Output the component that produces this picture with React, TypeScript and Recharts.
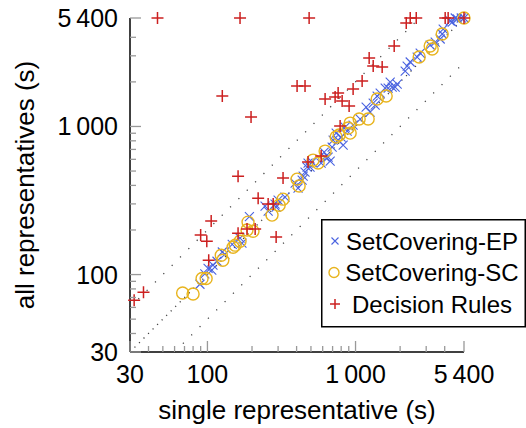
import {
  ScatterChart, Scatter, XAxis, YAxis, ReferenceLine, Legend, Label,
} from 'recharts';

const FONT = '"Liberation Sans", Arial, Helvetica, sans-serif';

// log-axis ticks (all) and the ones that carry a label
const axisTicks = [30, 40, 50, 60, 70, 80, 90, 100, 200, 300, 400, 500, 600, 700, 800, 900, 1000, 2000, 3000, 4000, 5400];
const majorTicks = [30, 100, 1000, 5400];
const tickLabels: Record<number, string> = { 30: '30', 100: '100', 1000: '1\u2009000', 5400: '5\u2009400' };

// guide lines y = 2x, y = x, y = x/2
const guideUpper = [{ x: 30, y: 60 }, { x: 2700, y: 5400 }];
const guideDiag = [{ x: 30, y: 30 }, { x: 5400, y: 5400 }];
const guideLower = [{ x: 60, y: 30 }, { x: 5400, y: 2700 }];

const setCoveringEP = [
  { x: 89, y: 86 }, { x: 96, y: 101 }, { x: 101, y: 110 }, { x: 109, y: 116 }, { x: 107, y: 107 },
  { x: 116, y: 123 }, { x: 126, y: 142 }, { x: 131, y: 137 }, { x: 147, y: 160 }, { x: 166, y: 176 },
  { x: 171, y: 163 }, { x: 192, y: 246 }, { x: 245, y: 290 }, { x: 257, y: 268 }, { x: 286, y: 299 },
  { x: 300, y: 318 }, { x: 291, y: 285 }, { x: 334, y: 333 }, { x: 391, y: 414 }, { x: 409, y: 384 },
  { x: 436, y: 434 }, { x: 443, y: 462 }, { x: 456, y: 492 }, { x: 471, y: 532 }, { x: 478, y: 566 },
  { x: 493, y: 532 }, { x: 509, y: 575 }, { x: 586, y: 566 }, { x: 614, y: 671 }, { x: 623, y: 621 },
  { x: 653, y: 621 }, { x: 674, y: 584 }, { x: 695, y: 726 }, { x: 706, y: 809 }, { x: 740, y: 902 },
  { x: 763, y: 809 }, { x: 799, y: 848 }, { x: 825, y: 749 }, { x: 851, y: 991 }, { x: 878, y: 931 },
  { x: 963, y: 1022 }, { x: 1075, y: 1122 }, { x: 1179, y: 1352 }, { x: 1255, y: 1251 }, { x: 1316, y: 1439 },
  { x: 1357, y: 1395 }, { x: 1400, y: 1605 }, { x: 1467, y: 1681 }, { x: 1586, y: 1817 }, { x: 1661, y: 1817 },
  { x: 1714, y: 1995 }, { x: 1768, y: 1846 }, { x: 1852, y: 1846 }, { x: 1911, y: 1934 }, { x: 2164, y: 2367 },
  { x: 2232, y: 2559 }, { x: 2339, y: 2724 }, { x: 2608, y: 2944 }, { x: 2733, y: 3133 }, { x: 3192, y: 3548 },
  { x: 3451, y: 3717 }, { x: 3730, y: 3895 }, { x: 3848, y: 4210 }, { x: 3908, y: 4550 }, { x: 4358, y: 5153 },
  { x: 4496, y: 5073 }, { x: 4711, y: 5400 }, { x: 4860, y: 5316 }, { x: 5171, y: 5400 }, { x: 5400, y: 5400 },
];

const setCoveringSC = [
  { x: 68, y: 75 }, { x: 80, y: 74 }, { x: 92, y: 94 }, { x: 98, y: 94 }, { x: 124, y: 135 },
  { x: 127, y: 125 }, { x: 149, y: 153 }, { x: 154, y: 158 }, { x: 166, y: 168 }, { x: 188, y: 226 },
  { x: 203, y: 196 }, { x: 185, y: 200 }, { x: 273, y: 252 }, { x: 305, y: 294 }, { x: 324, y: 323 },
  { x: 403, y: 441 }, { x: 416, y: 396 }, { x: 517, y: 593 }, { x: 559, y: 566 }, { x: 623, y: 682 },
  { x: 740, y: 848 }, { x: 775, y: 875 }, { x: 892, y: 976 }, { x: 920, y: 1054 }, { x: 920, y: 902 },
  { x: 1058, y: 1122 }, { x: 1217, y: 1122 }, { x: 1400, y: 1531 }, { x: 1610, y: 1605 }, { x: 2690, y: 2944 },
  { x: 3192, y: 3493 }, { x: 3293, y: 3334 }, { x: 3848, y: 4210 }, { x: 5400, y: 5400 },
];

const decisionRules = [
  { x: 46, y: 5400 }, { x: 166, y: 5400 }, { x: 486, y: 5400 }, { x: 2340, y: 5400 }, { x: 2570, y: 5400 },
  { x: 2200, y: 5000 }, { x: 4030, y: 5400 }, { x: 4220, y: 5400 }, { x: 5400, y: 5400 },
  { x: 126, y: 1605 }, { x: 197, y: 1157 }, { x: 403, y: 1875 }, { x: 456, y: 1875 }, { x: 623, y: 1531 },
  { x: 728, y: 1580 }, { x: 763, y: 1681 }, { x: 812, y: 1484 }, { x: 905, y: 1373 }, { x: 963, y: 1789 },
  { x: 1108, y: 2026 }, { x: 1236, y: 2898 }, { x: 1316, y: 2559 }, { x: 1513, y: 2519 }, { x: 1824, y: 3493 },
  { x: 787, y: 1006 }, { x: 586, y: 631 }, { x: 478, y: 575 }, { x: 324, y: 448 }, { x: 161, y: 462 },
  { x: 220, y: 328 }, { x: 257, y: 299 }, { x: 278, y: 299 }, { x: 106, y: 230 }, { x: 90, y: 185 },
  { x: 99, y: 168 }, { x: 102, y: 125 }, { x: 37, y: 76 }, { x: 32, y: 67 }, { x: 161, y: 190 },
  { x: 185, y: 203 }, { x: 210, y: 203 }, { x: 291, y: 179 },
];

const BLUE = '#4a63e0';
const GOLD = '#e8b41e';
const RED = '#cc2020';

const Cross = ({ cx, cy, s = 4.5 }: any) => (
  <path d={`M${cx - s},${cy - s}L${cx + s},${cy + s}M${cx - s},${cy + s}L${cx + s},${cy - s}`}
    stroke={BLUE} strokeWidth={1.1} fill="none" />
);
const Ring = ({ cx, cy, r = 6 }: any) => (
  <circle cx={cx} cy={cy} r={r} stroke={GOLD} strokeWidth={1.4} fill="none" />
);
const Plus = ({ cx, cy, s = 6 }: any) => (
  <path d={`M${cx - s},${cy}L${cx + s},${cy}M${cx},${cy - s}L${cx},${cy + s}`}
    stroke={RED} strokeWidth={1.5} fill="none" />
);

const XTick = ({ x, y, payload }: any) => {
  const major = majorTicks.includes(payload.value);
  return (
    <g>
      <line x1={x} x2={x} y1={y} y2={y - (major ? 11 : 6)} stroke="#999" strokeWidth={1.3} />
      {major && (
        <text x={x} y={y + 31} textAnchor="middle" fontSize={25} fontFamily={FONT} fill="#000">
          {tickLabels[payload.value]}
        </text>
      )}
    </g>
  );
};

const YTick = ({ x, y, payload }: any) => {
  const major = majorTicks.includes(payload.value);
  return (
    <g>
      <line x1={x} x2={x + (major ? 11 : 6)} y1={y} y2={y} stroke="#999" strokeWidth={1.3} />
      {major && (
        <text x={x - 12} y={y} dy="0.36em" textAnchor="end" fontSize={25} fontFamily={FONT} fill="#000">
          {tickLabels[payload.value]}
        </text>
      )}
    </g>
  );
};

const legendItems = [
  { name: 'SetCovering-EP', marker: 'x' },
  { name: 'SetCovering-SC', marker: 'o' },
  { name: 'Decision Rules', marker: '+' },
];

const LegendBox = () => (
  <svg width={205} height={109} style={{ display: 'block' }}>
    <rect x={0.75} y={0.75} width={203.5} height={107} fill="#fff" stroke="#000" strokeWidth={1.5} />
    {legendItems.map((item, i) => {
      const cy = 22 + i * 31.5;
      return (
        <g key={item.name}>
          {item.marker === 'x' && <Cross cx={14} cy={cy} s={3.5} />}
          {item.marker === 'o' && <Ring cx={13} cy={cy} r={5} />}
          {item.marker === '+' && <Plus cx={14} cy={cy} s={5} />}
          <text x={111} y={cy + 8.5} textAnchor="middle" fontSize={24} fontFamily={FONT} fill="#000">
            {item.name}
          </text>
        </g>
      );
    })}
  </svg>
);

export default function App() {
  return (
    <div style={{ position: 'absolute', left: 0, top: 0, width: 526, height: 428, background: '#fff' }}>
      <ScatterChart width={526} height={428} margin={{ top: 18, right: 62, bottom: 0, left: 0 }}>
        <XAxis
          type="number" dataKey="x" scale="log" domain={[30, 5400]} ticks={axisTicks}
          interval={0} height={76} tickSize={0} tickMargin={0} tickLine={false}
          axisLine={{ stroke: '#000', strokeWidth: 1.5 }} tick={<XTick />}
        >
          <Label
            content={({ viewBox }: any) => (
              <text x={viewBox.x + viewBox.width / 2} y={viewBox.y + 67} textAnchor="middle"
                fontSize={26} fontFamily={FONT} fill="#000">single representative (s)</text>
            )}
          />
        </XAxis>
        <YAxis
          type="number" dataKey="y" scale="log" domain={[30, 5400]} ticks={axisTicks}
          interval={0} width={130} tickSize={0} tickMargin={0} tickLine={false}
          axisLine={{ stroke: '#000', strokeWidth: 1.5 }} tick={<YTick />}
        >
          <Label
            content={({ viewBox }: any) => {
              const cx = viewBox.x + 34;
              const cy = viewBox.y + viewBox.height / 2;
              return (
                <text x={cx} y={cy} textAnchor="middle" transform={`rotate(-90 ${cx} ${cy})`}
                  fontSize={26} fontFamily={FONT} fill="#000">all representatives (s)</text>
              );
            }}
          />
        </YAxis>
        <ReferenceLine segment={guideUpper} stroke="#444" strokeWidth={1.3} strokeDasharray="1.2 10.6" />
        <ReferenceLine segment={guideDiag} stroke="#444" strokeWidth={1.3} strokeDasharray="1.2 5.2" />
        <ReferenceLine segment={guideLower} stroke="#444" strokeWidth={1.3} strokeDasharray="1.2 10.6" />
        <Scatter name="SetCovering-EP" data={setCoveringEP} shape={<Cross />} isAnimationActive={false} />
        <Scatter name="SetCovering-SC" data={setCoveringSC} shape={<Ring />} isAnimationActive={false} />
        <Scatter name="Decision Rules" data={decisionRules} shape={<Plus />} isAnimationActive={false} />
        <Legend
          layout="vertical" align="center" verticalAlign="middle"
          content={() => <LegendBox />}
          wrapperStyle={{ position: 'absolute', left: 321, top: 219, width: 205, height: 109, margin: 0 }}
        />
      </ScatterChart>
    </div>
  );
}
